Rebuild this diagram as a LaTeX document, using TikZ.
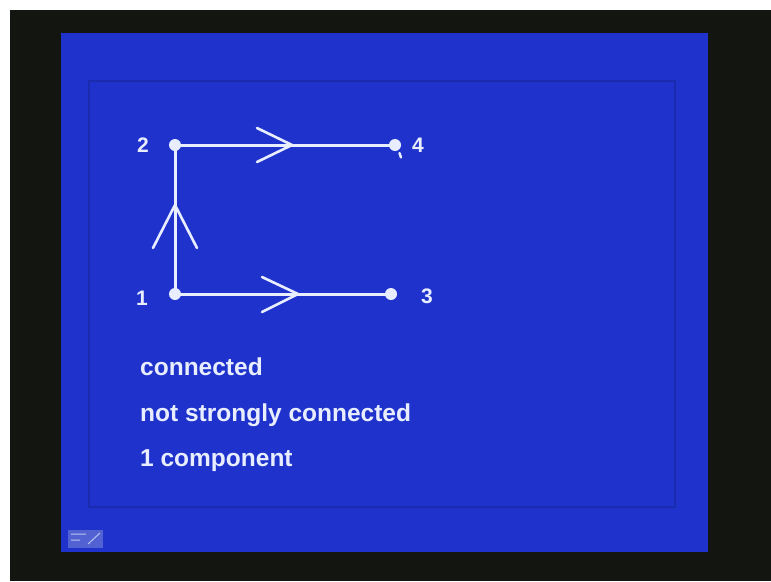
\documentclass[tikz,border=0pt]{standalone}
\usepackage{fontspec}
\setmainfont{Liberation Sans}
\usetikzlibrary{calc}
\definecolor{bgdark}{HTML}{121510}
\definecolor{panel}{HTML}{1F33CC}
\definecolor{frameblue}{HTML}{1A2BB0}
\definecolor{ink}{HTML}{E8EEFF}
\definecolor{iconblue}{HTML}{5262D2}
\tikzset{
  edge/.style={draw=ink, line width=3pt},
  chev/.style={draw=ink, line width=2.6pt, line cap=round, line join=round},
  dot/.style={circle, fill=ink, inner sep=0pt, minimum size=12pt},
  lbl/.style={text=ink, font=\fontsize{21}{24}\selectfont\bfseries, anchor=base, inner sep=0pt},
  txt/.style={text=ink, font=\fontsize{24.5}{28}\selectfont\bfseries, anchor=base west, inner sep=0pt}
}
\begin{document}
\begin{tikzpicture}[x=1pt, y=-1pt]
\useasboundingbox (0,0) rectangle (771,581);
% background
\fill[white] (0,0) rectangle (771,581);
\fill[bgdark] (10,10) rectangle (771,581);
\fill[panel] (61,33) rectangle (708,552);
\draw[frameblue, line width=2.5pt] (89,81) rectangle (675,507);
% icon
\fill[iconblue] (68,530) rectangle (103,548);
\draw[ink!70!iconblue, line width=1pt] (71,534) -- (86,534) (71,540) -- (80,540) (88,544) -- (100,533);
% vertices
\node[dot] (n1) at (175,294) {};
\node[dot] (n2) at (175,145) {};
\node[dot] (n3) at (391,294) {};
\node[dot] (n4) at (395,145) {};
% edges
\draw[edge] (n1.center) -- (n2.center);
\draw[edge] (n2.center) -- (n4.center);
\draw[edge] (n1.center) -- (n3.center);
% direction chevrons
\coordinate (t12) at (175,205);
\coordinate (t24) at (292,145);
\coordinate (t13) at (298,294);
\draw[chev] ($(t12)+(-22,43)$) -- (t12) -- ($(t12)+(22,43)$);
\draw[chev] ($(t24)+(-35,-17)$) -- (t24) -- ($(t24)+(-35,17)$);
\draw[chev] ($(t13)+(-36,-17)$) -- (t13) -- ($(t13)+(-36,18)$);
% small mark under vertex 4
\draw[ink, line width=2.4pt, line cap=round] (399.5,153) -- (401,157.5);
% vertex labels
\node[lbl] (l2) at (143,152) {2};
\node[lbl] (l4) at (418,152) {4};
\node[lbl] (l1) at (142,305) {1};
\node[lbl] (l3) at (427,303) {3};
% text
\node[txt] (c1) at (140,375) {connected};
\node[txt] (c2) at (140,421) {not strongly connected};
\node[txt] (c3) at (140,466) {1 component};
\end{tikzpicture}
\end{document}
